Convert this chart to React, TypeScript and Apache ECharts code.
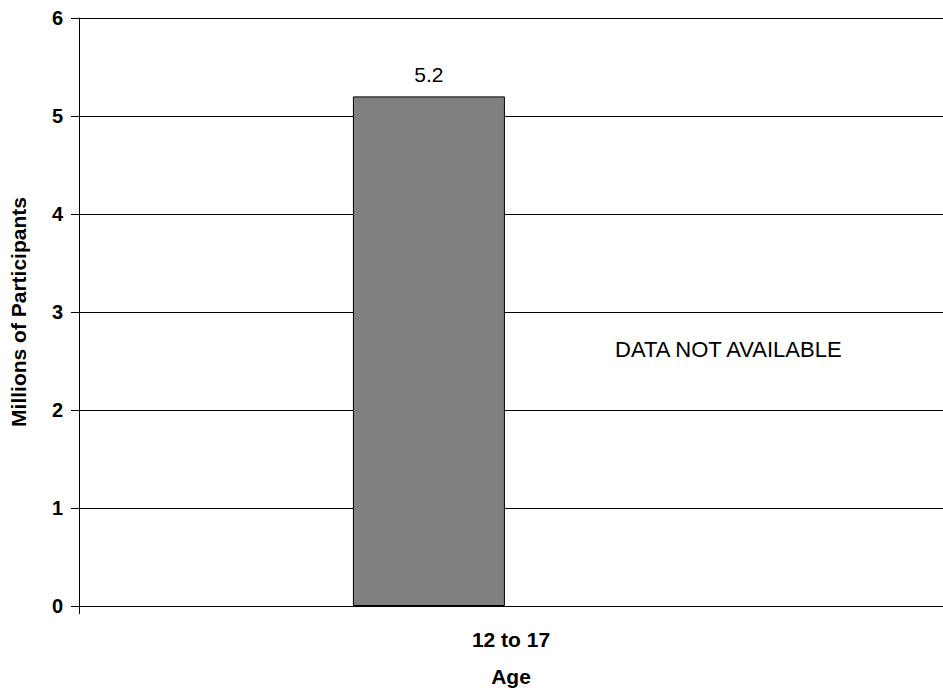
import React, { useEffect, useRef } from "react";
import * as echarts from "echarts";

const categories = ["12 to 17"];
const participants = [5.2];
const unavailable = [null];
const yTicks = [0, 1, 2, 3, 4, 5, 6];
const noteText = "DATA NOT AVAILABLE";

export default function App() {
  const ref = useRef<HTMLDivElement>(null);
  useEffect(() => {
    const chart = echarts.init(ref.current!, null, { renderer: "svg" });
    const font = "Arial, 'Liberation Sans', sans-serif";
    chart.setOption({
      animation: false,
      grid: { left: 71, right: 0, top: 18, bottom: 82 },
      xAxis: {
        type: "category",
        data: categories,
        name: "Age",
        nameLocation: "middle",
        nameGap: 60,
        nameTextStyle: { fontFamily: font, fontWeight: "bold", fontSize: 21, color: "#000" },
        axisLine: { lineStyle: { color: "#000", width: 1 } },
        axisTick: { show: true, length: 8, lineStyle: { color: "#000" } },
        axisLabel: { fontFamily: font, fontWeight: "bold", fontSize: 21, color: "#000", margin: 23 },
      },
      yAxis: {
        type: "value",
        min: yTicks[0],
        max: yTicks[yTicks.length - 1],
        interval: 1,
        name: "Millions of Participants",
        nameLocation: "middle",
        nameGap: 50,
        nameTextStyle: { fontFamily: font, fontWeight: "bold", fontSize: 21, color: "#000" },
        axisLine: { show: true, lineStyle: { color: "#000", width: 1 } },
        axisTick: { show: true, length: 8, lineStyle: { color: "#000" } },
        axisLabel: { fontFamily: font, fontWeight: "bold", fontSize: 20, color: "#000", margin: 16 },
        splitLine: { show: true, lineStyle: { color: "#000", width: 1 } },
      },
      series: [
        {
          type: "bar",
          data: participants,
          barWidth: 152,
          barGap: "8%",
          itemStyle: { color: "#808080", borderColor: "#000", borderWidth: 1 },
          label: {
            show: true,
            position: "top",
            distance: 11,
            fontFamily: font,
            fontSize: 21,
            color: "#000",
          },
        },
        {
          type: "bar",
          data: unavailable,
          barWidth: 152,
          itemStyle: { color: "#808080" },
        },
      ],
      graphic: [
        {
          type: "text",
          x: 615,
          y: 349,
          style: {
            text: noteText,
            fontFamily: font,
            fontSize: 22,
            fill: "#000",
            verticalAlign: "middle",
            align: "left",
          },
        },
      ],
    });
    return () => chart.dispose();
  }, []);
  return <div ref={ref} style={{ width: 943, height: 692, position: "absolute", left: 0, top: 0 }} />;
}
